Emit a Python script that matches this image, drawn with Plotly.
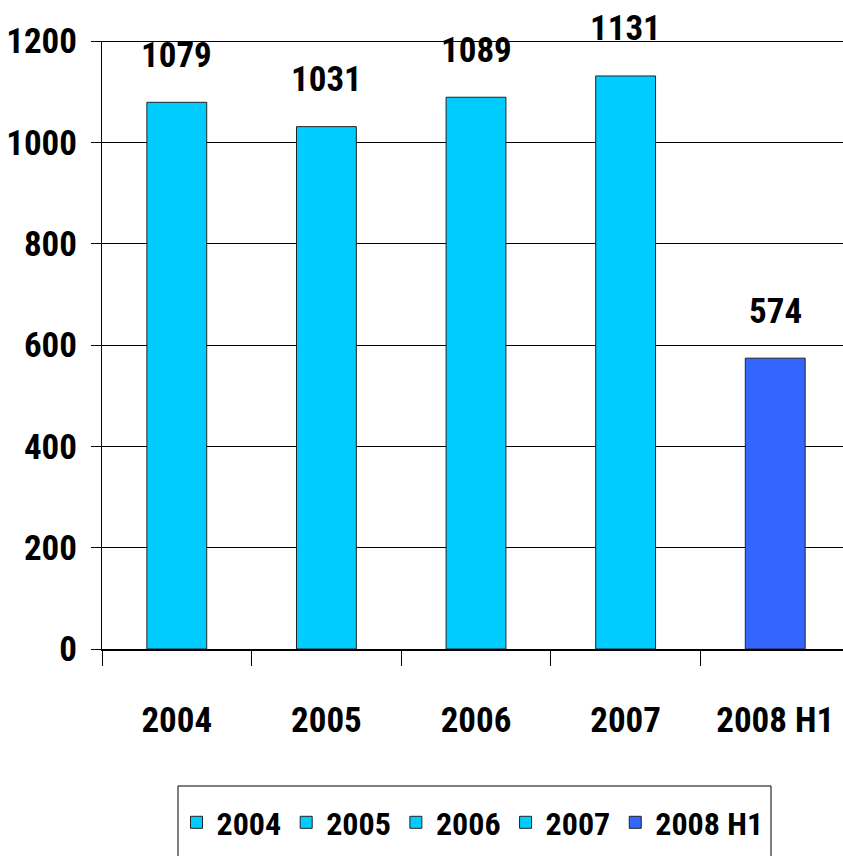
import plotly.graph_objects as go

# Data
categories = ["2004", "2005", "2006", "2007", "2008 H1"]
values = [1079, 1031, 1089, 1131, 574]
bar_colors = ["#00CCFF", "#00CCFF", "#00CCFF", "#00CCFF", "#3366FF"]
y_ticks = [0, 200, 400, 600, 800, 1000, 1200]

FONT = "Roboto Condensed, Liberation Sans Narrow, Arial Narrow, sans-serif"
FSIZE = 35
Y_MAX = 1200

fig = go.Figure()

# One trace per period so each gets its own legend entry
for cat, val, col in zip(categories, values, bar_colors):
    fig.add_trace(go.Bar(
        x=[cat], y=[val], name=f"<b>{cat}</b>",
        width=0.4,
        marker=dict(color=col, line=dict(color="#222222", width=1)),
        hoverinfo="x+y",
    ))

# Value labels above the bars (x given as category index)
for i, val in enumerate(values):
    fig.add_annotation(
        x=i, y=val, text=f"<b>{val}</b>", showarrow=False,
        yshift=47, font=dict(family=FONT, size=FSIZE, color="black"),
    )

# Heavier top border line of the plot
fig.add_shape(type="line", xref="paper", yref="y", x0=0, x1=1, y0=Y_MAX, y1=Y_MAX,
              line=dict(color="black", width=2))

# Legend frame
fig.add_shape(type="rect", xref="paper", yref="paper",
              x0=(178 - 102) / 741, x1=(771 - 102) / 741,
              y0=-(786 - 649) / 608, y1=-(900 - 649) / 608,
              line=dict(color="black", width=1), fillcolor="rgba(0,0,0,0)")

fig.update_layout(
    width=843, height=856,
    margin=dict(l=102, r=0, t=41, b=207),
    paper_bgcolor="white", plot_bgcolor="white",
    barmode="overlay",
    font=dict(family=FONT, size=FSIZE, color="black"),
    showlegend=True,
    legend=dict(
        orientation="h", x=0.5, xanchor="center", y=-(795 - 649) / 608, yanchor="top",
        font=dict(family=FONT, size=32, color="black"),
        borderwidth=0, bgcolor="rgba(0,0,0,0)", itemwidth=30,
    ),
    xaxis=dict(
        type="category", categoryorder="array", categoryarray=categories,
        range=[-0.5, 4.453],
        tickson="boundaries", ticks="outside", ticklen=15, tickwidth=1, tickcolor="black",
        showline=True, linecolor="black", linewidth=2,
        showgrid=False, zeroline=False,
        tickfont=dict(family=FONT, size=FSIZE, color="black"),
        tickprefix="<b>", ticksuffix="</b>",
        ticklabelstandoff=39,
    ),
    yaxis=dict(
        range=[0, Y_MAX], tickvals=y_ticks,
        ticktext=[f"<b>{t}</b>" for t in y_ticks],
        ticks="outside", ticklen=10, tickwidth=1, tickcolor="black",
        showline=True, linecolor="black", linewidth=1,
        showgrid=True, gridcolor="black", gridwidth=1,
        zeroline=False,
        tickfont=dict(family=FONT, size=FSIZE, color="black"),
        ticklabelstandoff=7,
    ),
)

fig.write_html("out.html")
